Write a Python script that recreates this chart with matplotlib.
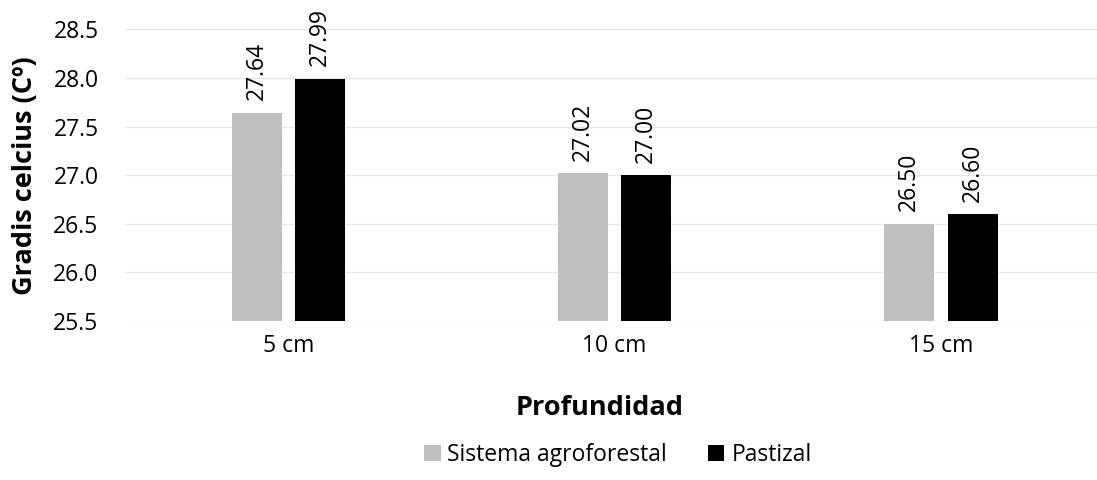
import matplotlib.pyplot as plt
import numpy as np

plt.rcParams['font.family'] = ['Open Sans', 'DejaVu Sans']

# Datos de temperatura por profundidad
profundidades = ['5 cm', '10 cm', '15 cm']
agroforestal = [27.64, 27.02, 26.50]
pastizal = [27.99, 27.00, 26.60]
series = ['Sistema agroforestal', 'Pastizal']

x = np.arange(len(profundidades))
ancho = 0.153
desfase = 0.097

fig = plt.figure(figsize=(10.97, 4.8), dpi=100)
ax = fig.add_axes([125 / 1097, 1 - 321 / 480, (1097 - 125) / 1097, (321 - 29.3) / 480])

b1 = ax.bar(x - desfase, agroforestal, ancho, bottom=0, color='#BFBFBF', label=series[0], zorder=3)
b2 = ax.bar(x + desfase, pastizal, ancho, bottom=0, color='#000000', label=series[1], zorder=3)

for barras in (b1, b2):
    for b in barras:
        ax.annotate(f'{b.get_height():.2f}', (b.get_x() + b.get_width() / 2, b.get_height()),
                    xytext=(0, 9), textcoords='offset points', rotation=90,
                    ha='center', va='bottom', fontsize=16.5)

ax.set_ylim(25.5, 28.5)
ax.set_xlim(-0.5, 2.478)
ax.set_yticks(np.arange(25.5, 28.51, 0.5))
ax.set_yticklabels([f'{v:.1f}' for v in np.arange(25.5, 28.51, 0.5)], fontsize=16.5)
ax.set_xticks(x)
ax.set_xticklabels(profundidades, fontsize=16.5)
ax.tick_params(length=0, pad=9)
ax.tick_params(axis='y', pad=19)
ax.grid(axis='y', color='#E6E6E6', linewidth=1, zorder=0)
for s in ax.spines.values():
    s.set_visible(False)

ax.set_ylabel('Gradis celcius (Cº)', fontsize=19.5, fontweight='bold', labelpad=11)
fig.text(600 / 1097, 1 - 408 / 480, 'Profundidad', fontsize=19.5, fontweight='bold',
         ha='center', va='center')

fig.legend(handles=[b1, b2], loc='center', bbox_to_anchor=(618 / 1097, 1 - 455 / 480),
           ncol=2, frameon=False, fontsize=16.5, handlelength=0.7, handleheight=0.7,
           handletextpad=0.3, columnspacing=1.8)

fig.savefig('out.png', dpi=100)
